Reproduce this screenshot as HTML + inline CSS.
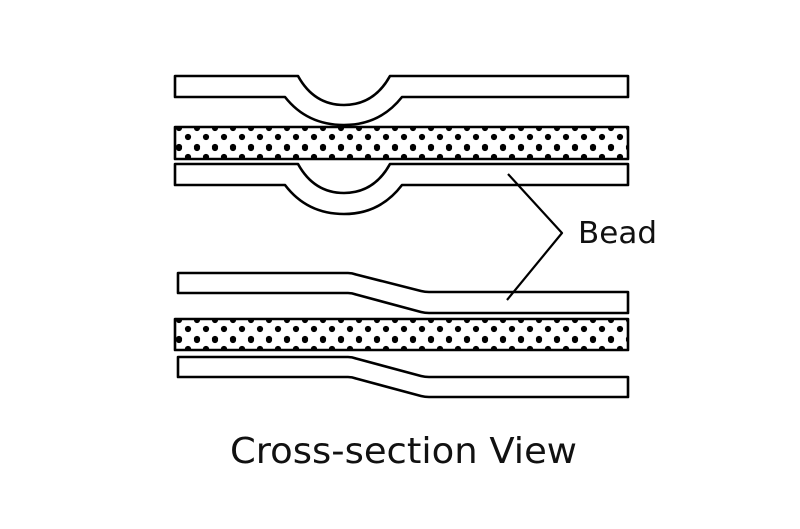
<!DOCTYPE html>
<html><head><meta charset="utf-8"><style>
html,body{margin:0;padding:0;background:#fff;}
svg{display:block;}
</style></head><body>
<svg width="800" height="529" viewBox="0 0 800 529" xmlns="http://www.w3.org/2000/svg">
<defs>
<pattern id="dots" x="175" y="127" width="18" height="20" patternUnits="userSpaceOnUse">
<circle cx="4" cy="1" r="3.1" fill="#000"/>
<circle cx="13" cy="10" r="3.1" fill="#000"/>
<circle cx="4" cy="20" r="3.1" fill="#000"/>
</pattern>
<pattern id="dots2" x="175" y="319" width="18" height="20" patternUnits="userSpaceOnUse">
<circle cx="4" cy="1" r="3.1" fill="#000"/>
<circle cx="13" cy="10" r="3.1" fill="#000"/>
<circle cx="4" cy="20" r="3.1" fill="#000"/>
</pattern>
</defs>
<g fill="none" stroke="#000" stroke-width="2.6" stroke-linejoin="round">
<path d="M175,76 L298,76 Q314,105 344,105 Q374,105 390,76 L628,76 L628,97 L402,97 Q380,125 344,125 Q307,125 285,97 L175,97 Z" fill="#fff"/>
<rect x="175" y="127" width="453" height="32" fill="url(#dots)"/>
<path d="M175,164 L298,164 Q314,193 344,193 Q374,193 390,164 L628,164 L628,185 L402,185 Q380,214 344,214 Q307,214 285,185 L175,185 Z" fill="#fff"/>
<path d="M178,273 L348,273 Q352,273 356,274.5 L421,291 Q425,292 429,292 L628,292 L628,313 L429,313 Q425,313 421,312 L356,294.5 Q352,293 348,293 L178,293 Z" fill="#fff"/>
<rect x="175" y="319" width="453" height="31" fill="url(#dots2)"/>
<path d="M178,357 L348,357 Q352,357 356,358.5 L421,376 Q425,377 429,377 L628,377 L628,397 L429,397 Q425,397 421,396 L356,378.5 Q352,377 348,377 L178,377 Z" fill="#fff"/>
<polyline points="508,174 562,233 507,300" stroke-width="2.2"/>
</g>
<text x="578" y="243" font-family="DejaVu Sans, sans-serif" font-size="30" textLength="79" lengthAdjust="spacingAndGlyphs" fill="#111">Bead</text>
<text x="230" y="463" font-family="DejaVu Sans, sans-serif" font-size="36" textLength="347" lengthAdjust="spacingAndGlyphs" fill="#111">Cross-section View</text>
</svg>
</body></html>
